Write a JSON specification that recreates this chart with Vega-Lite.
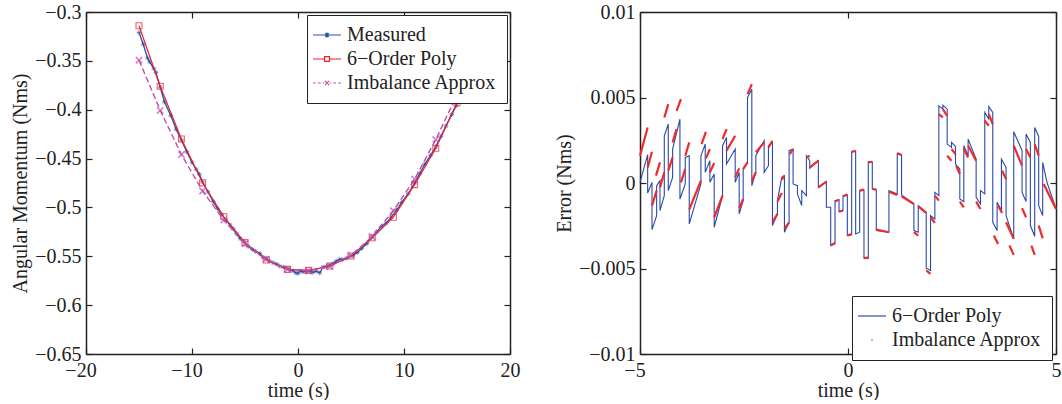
{
  "$schema": "https://vega.github.io/schema/vega-lite/v6.json",
  "padding": {"left": 10, "top": 2, "right": 0, "bottom": 0},
  "spacing": 34,
  "config": {
    "view": {"stroke": null},
    "axis": {
      "labelFont": "Liberation Serif", "labelFontSize": 20, "labelColor": "#222",
      "titleFont": "Liberation Serif", "titleFontSize": 20, "titleFontWeight": "normal", "titleColor": "#222",
      "domainColor": "#222", "domainWidth": 1.5, "tickColor": "#222", "tickWidth": 1.2,
      "grid": false, "labelFlush": false
    },
    "legend": {
      "labelFont": "Liberation Serif", "labelFontSize": 20, "labelColor": "#222",
      "strokeColor": "#222", "fillColor": "white", "padding": 10, "rowPadding": 4,
      "symbolOpacity": 1, "symbolSize": 196, "symbolStrokeWidth": 1.2, "labelOffset": 10, "labelLimit": 300
    }
  },
  "datasets": {
    "meas": [
      {"t": -15.0, "v": -0.321}, {"t": -14.6, "v": -0.333}, {"t": -14.2, "v": -0.347}, {"t": -14.0, "v": -0.351},
      {"t": -13.6, "v": -0.358}, {"t": -13.4, "v": -0.362}, {"t": -13.0, "v": -0.377}, {"t": -12.6, "v": -0.392},
      {"t": -12.0, "v": -0.406}, {"t": -11.5, "v": -0.42}, {"t": -11.0, "v": -0.431}, {"t": -10.5, "v": -0.443},
      {"t": -10.0, "v": -0.454}, {"t": -9.6, "v": -0.461}, {"t": -9.3, "v": -0.466}, {"t": -9.0, "v": -0.474},
      {"t": -8.5, "v": -0.484}, {"t": -8.0, "v": -0.494}, {"t": -7.6, "v": -0.501}, {"t": -7.2, "v": -0.507},
      {"t": -6.8, "v": -0.513}, {"t": -6.4, "v": -0.518}, {"t": -6.1, "v": -0.522}, {"t": -5.8, "v": -0.527},
      {"t": -5.45, "v": -0.532}, {"t": -5.1, "v": -0.535}, {"t": -4.7, "v": -0.54}, {"t": -4.3, "v": -0.543},
      {"t": -4.0, "v": -0.545}, {"t": -3.6, "v": -0.547}, {"t": -3.3, "v": -0.551}, {"t": -3.0, "v": -0.552},
      {"t": -2.7, "v": -0.555}, {"t": -2.36, "v": -0.5565}, {"t": -2.0, "v": -0.558}, {"t": -1.73, "v": -0.56},
      {"t": -1.4, "v": -0.561}, {"t": -1.1, "v": -0.562}, {"t": -0.8, "v": -0.5635}, {"t": -0.47, "v": -0.565},
      {"t": -0.2, "v": -0.567}, {"t": 0.0, "v": -0.5675}, {"t": 0.2, "v": -0.565}, {"t": 0.47, "v": -0.566},
      {"t": 0.8, "v": -0.5655}, {"t": 1.1, "v": -0.565}, {"t": 1.4, "v": -0.5665}, {"t": 1.73, "v": -0.5652},
      {"t": 2.05, "v": -0.567}, {"t": 2.36, "v": -0.561}, {"t": 2.7, "v": -0.5605}, {"t": 3.0, "v": -0.559},
      {"t": 3.3, "v": -0.5575}, {"t": 3.6, "v": -0.555}, {"t": 3.94, "v": -0.553}, {"t": 4.2, "v": -0.5535},
      {"t": 4.57, "v": -0.552}, {"t": 4.9, "v": -0.55}, {"t": 5.2, "v": -0.549}, {"t": 5.6, "v": -0.546},
      {"t": 6.0, "v": -0.542}, {"t": 6.5, "v": -0.537}, {"t": 6.93, "v": -0.531}, {"t": 7.4, "v": -0.525},
      {"t": 7.87, "v": -0.5195}, {"t": 8.3, "v": -0.516}, {"t": 8.8, "v": -0.51}, {"t": 9.3, "v": -0.503},
      {"t": 9.76, "v": -0.495}, {"t": 10.4, "v": -0.486}, {"t": 11.0, "v": -0.475}, {"t": 11.5, "v": -0.465},
      {"t": 11.97, "v": -0.4555}, {"t": 12.5, "v": -0.447}, {"t": 13.0, "v": -0.438}, {"t": 13.5, "v": -0.427},
      {"t": 13.95, "v": -0.4168}, {"t": 14.5, "v": -0.405}, {"t": 14.96, "v": -0.3955}
    ],
    "poly": [
      {"t": -15.0, "v": -0.314}, {"t": -13.0, "v": -0.376}, {"t": -11.0, "v": -0.43}, {"t": -9.0, "v": -0.4747},
      {"t": -7.0, "v": -0.5096}, {"t": -5.0, "v": -0.536}, {"t": -3.0, "v": -0.5538}, {"t": -1.0, "v": -0.5634},
      {"t": 1.0, "v": -0.5644}, {"t": 3.0, "v": -0.56}, {"t": 5.0, "v": -0.5497}, {"t": 7.0, "v": -0.531},
      {"t": 9.0, "v": -0.51}, {"t": 11.0, "v": -0.4767}, {"t": 13.0, "v": -0.4394}, {"t": 15.0, "v": -0.3928}
    ],
    "imb": [
      {"t": -15.0, "v": -0.3493}, {"t": -13.0, "v": -0.4007}, {"t": -11.0, "v": -0.4459}, {"t": -9.0, "v": -0.4832},
      {"t": -7.0, "v": -0.513}, {"t": -5.0, "v": -0.537}, {"t": -3.0, "v": -0.553}, {"t": -1.0, "v": -0.5634},
      {"t": 1.0, "v": -0.565}, {"t": 3.0, "v": -0.5606}, {"t": 5.0, "v": -0.549}, {"t": 7.0, "v": -0.5298},
      {"t": 9.0, "v": -0.5034}, {"t": 11.0, "v": -0.471}, {"t": 13.0, "v": -0.4305}, {"t": 15.0, "v": -0.3846}
    ],
    "legL": [{"s": "Measured"}, {"s": "6−Order Poly"}, {"s": "Imbalance Approx"}],
    "legR": [{"s": "6−Order Poly"}, {"s": "Imbalance Approx"}],
    "err": [
      {"i": 1, "t": -5.0, "e": 0.00004}, {"i": 2, "t": -4.816, "e": 0.001654}, {"i": 3, "t": -4.816, "e": -0.000584},
      {"i": 4, "t": -4.712, "e": 0.000039}, {"i": 5, "t": -4.712, "e": -0.002724}, {"i": 6, "t": -4.6, "e": -0.001907},
      {"i": 7, "t": -4.6, "e": -0.000156}, {"i": 8, "t": -4.52, "e": 0.000136}, {"i": 9, "t": -4.52, "e": -0.001615},
      {"i": 10, "t": -4.416, "e": -0.000739}, {"i": 11, "t": -4.416, "e": 0.002763}, {"i": 12, "t": -4.32, "e": 0.003444},
      {"i": 13, "t": -4.32, "e": -0.000447}, {"i": 14, "t": -4.216, "e": 0.000331}, {"i": 15, "t": -4.216, "e": 0.001984},
      {"i": 16, "t": -4.04, "e": 0.003735}, {"i": 17, "t": -4.04, "e": -0.000934}, {"i": 18, "t": -3.912, "e": -0.000058},
      {"i": 19, "t": -3.912, "e": 0.001498}, {"i": 20, "t": -3.816, "e": 0.001595}, {"i": 21, "t": -3.816, "e": -0.002393},
      {"i": 22, "t": -3.536, "e": -0.000058}, {"i": 23, "t": -3.536, "e": 0.001595}, {"i": 24, "t": -3.432, "e": 0.002276},
      {"i": 25, "t": -3.432, "e": 0.000623}, {"i": 26, "t": -3.32, "e": 0.001304}, {"i": 27, "t": -3.32, "e": 0.000039},
      {"i": 28, "t": -3.216, "e": 0.000525}, {"i": 29, "t": -3.216, "e": -0.002588}, {"i": 30, "t": -3.016, "e": -0.000739},
      {"i": 31, "t": -3.016, "e": 0.002179}, {"i": 32, "t": -2.92, "e": 0.002665}, {"i": 33, "t": -2.92, "e": 0.001109},
      {"i": 34, "t": -2.712, "e": 0.001984}, {"i": 35, "t": -2.712, "e": 0.000039}, {"i": 36, "t": -2.616, "e": 0.000623},
      {"i": 37, "t": -2.616, "e": -0.001809}, {"i": 38, "t": -2.52, "e": -0.001031}, {"i": 39, "t": -2.52, "e": 0.000817},
      {"i": 40, "t": -2.416, "e": 0.001206}, {"i": 41, "t": -2.416, "e": 0.005}, {"i": 42, "t": -2.312, "e": 0.005486},
      {"i": 43, "t": -2.312, "e": -0.000156}, {"i": 44, "t": -2.216, "e": 0.000623}, {"i": 45, "t": -2.216, "e": 0.001595},
      {"i": 46, "t": -2.016, "e": 0.002471}, {"i": 47, "t": -2.016, "e": 0.000623}, {"i": 48, "t": -1.912, "e": 0.001012},
      {"i": 49, "t": -1.912, "e": 0.002179}, {"i": 50, "t": -1.816, "e": 0.002374}, {"i": 51, "t": -1.816, "e": -0.00249},
      {"i": 52, "t": -1.696, "e": -0.001809}, {"i": 53, "t": -1.696, "e": -0.001031}, {"i": 54, "t": -1.592, "e": 0.000331},
      {"i": 55, "t": -1.528, "e": 0.000428}, {"i": 56, "t": -1.528, "e": -0.002879}, {"i": 57, "t": -1.416, "e": -0.002296},
      {"i": 58, "t": -1.416, "e": 0.001887}, {"i": 59, "t": -1.32, "e": 0.001984}, {"i": 60, "t": -1.32, "e": -0.000058},
      {"i": 61, "t": -1.216, "e": -0.000156}, {"i": 62, "t": -1.216, "e": -0.000642}, {"i": 63, "t": -1.112, "e": -0.001323},
      {"i": 64, "t": -1.112, "e": -0.000447}, {"i": 65, "t": -1.0, "e": -0.000739}, {"i": 66, "t": -1.0, "e": 0.001595},
      {"i": 67, "t": -0.92, "e": 0.001304}, {"i": 68, "t": -0.92, "e": 0.000856}, {"i": 69, "t": -0.712, "e": 0.001304},
      {"i": 70, "t": -0.712, "e": -0.000253}, {"i": 71, "t": -0.52, "e": 0.000078}, {"i": 72, "t": -0.52, "e": -0.00142},
      {"i": 73, "t": -0.416, "e": -0.00142}, {"i": 74, "t": -0.416, "e": -0.003658}, {"i": 75, "t": -0.312, "e": -0.00356},
      {"i": 76, "t": -0.312, "e": -0.001031}, {"i": 77, "t": -0.216, "e": -0.000973}, {"i": 78, "t": -0.216, "e": -0.001673},
      {"i": 79, "t": -0.12, "e": -0.001615}, {"i": 80, "t": -0.12, "e": -0.000739}, {"i": 81, "t": -0.016, "e": -0.0007},
      {"i": 82, "t": -0.016, "e": -0.003074}, {"i": 83, "t": 0.088, "e": -0.003035}, {"i": 84, "t": 0.088, "e": 0.001829},
      {"i": 85, "t": 0.184, "e": 0.001848}, {"i": 86, "t": 0.184, "e": -0.002977}, {"i": 87, "t": 0.28, "e": -0.002879},
      {"i": 88, "t": 0.28, "e": -0.000447}, {"i": 89, "t": 0.384, "e": -0.000409}, {"i": 90, "t": 0.384, "e": -0.004397},
      {"i": 91, "t": 0.488, "e": -0.004397}, {"i": 92, "t": 0.488, "e": 0.001245}, {"i": 93, "t": 0.584, "e": 0.001245},
      {"i": 94, "t": 0.584, "e": -0.00035}, {"i": 95, "t": 0.68, "e": -0.000389}, {"i": 96, "t": 0.68, "e": -0.002782},
      {"i": 97, "t": 0.984, "e": -0.002879}, {"i": 98, "t": 0.984, "e": -0.000447}, {"i": 99, "t": 1.184, "e": -0.000642},
      {"i": 100, "t": 1.184, "e": 0.001693}, {"i": 101, "t": 1.288, "e": 0.001634}, {"i": 102, "t": 1.288, "e": -0.0007},
      {"i": 103, "t": 1.584, "e": -0.001226}, {"i": 104, "t": 1.584, "e": -0.002782}, {"i": 105, "t": 1.688, "e": -0.002879},
      {"i": 106, "t": 1.688, "e": -0.001323}, {"i": 107, "t": 1.88, "e": -0.001712}, {"i": 108, "t": 1.88, "e": -0.004981},
      {"i": 109, "t": 1.984, "e": -0.005117}, {"i": 110, "t": 1.984, "e": -0.001907}, {"i": 111, "t": 2.088, "e": -0.002101},
      {"i": 112, "t": 2.088, "e": -0.000545}, {"i": 113, "t": 2.184, "e": -0.000739}, {"i": 114, "t": 2.184, "e": 0.004514},
      {"i": 115, "t": 2.28, "e": 0.004319}, {"i": 116, "t": 2.28, "e": 0.004553}, {"i": 117, "t": 2.384, "e": 0.004319},
      {"i": 118, "t": 2.384, "e": 0.002276}, {"i": 119, "t": 2.488, "e": 0.002082}, {"i": 120, "t": 2.488, "e": 0.002374},
      {"i": 121, "t": 2.584, "e": 0.00214}, {"i": 122, "t": 2.584, "e": 0.001109}, {"i": 123, "t": 2.688, "e": 0.000817},
      {"i": 124, "t": 2.688, "e": -0.000934}, {"i": 125, "t": 2.784, "e": -0.001089}, {"i": 126, "t": 2.784, "e": 0.002179},
      {"i": 127, "t": 2.888, "e": 0.001595}, {"i": 128, "t": 2.888, "e": 0.002568}, {"i": 129, "t": 3.08, "e": 0.001401},
      {"i": 130, "t": 3.08, "e": -0.000837}, {"i": 131, "t": 3.184, "e": -0.001226}, {"i": 132, "t": 3.184, "e": -0.000447},
      {"i": 133, "t": 3.288, "e": -0.000642}, {"i": 134, "t": 3.288, "e": 0.004125}, {"i": 135, "t": 3.384, "e": 0.003735},
      {"i": 136, "t": 3.384, "e": 0.004475}, {"i": 137, "t": 3.48, "e": 0.004125}, {"i": 138, "t": 3.48, "e": -0.002296},
      {"i": 139, "t": 3.584, "e": -0.002782}, {"i": 140, "t": 3.584, "e": -0.001128}, {"i": 141, "t": 3.688, "e": -0.001615},
      {"i": 142, "t": 3.688, "e": 0.001401}, {"i": 143, "t": 3.8, "e": 0.000914}, {"i": 144, "t": 3.8, "e": -0.001907},
      {"i": 145, "t": 3.984, "e": -0.003268}, {"i": 146, "t": 3.984, "e": 0.002996}, {"i": 147, "t": 4.184, "e": 0.001887},
      {"i": 148, "t": 4.184, "e": -0.000545}, {"i": 149, "t": 4.28, "e": -0.001089}, {"i": 150, "t": 4.28, "e": 0.00286},
      {"i": 151, "t": 4.384, "e": 0.002374}, {"i": 152, "t": 4.384, "e": -0.00249}, {"i": 153, "t": 4.488, "e": -0.003113},
      {"i": 154, "t": 4.488, "e": 0.003249}, {"i": 155, "t": 4.584, "e": 0.002724}, {"i": 156, "t": 4.584, "e": -0.001323},
      {"i": 157, "t": 4.68, "e": -0.001907}, {"i": 158, "t": 4.68, "e": 0.001206}, {"i": 159, "t": 4.784, "e": 0.000039},
      {"i": 160, "t": 5.0, "e": -0.001518}
    ],
    "seg": [
      {"k": 1, "t": -5.0, "e": 0.001595}, {"k": 1, "t": -4.816, "e": 0.003249},
      {"k": 2, "t": -4.816, "e": 0.000914}, {"k": 2, "t": -4.712, "e": 0.001829},
      {"k": 3, "t": -4.712, "e": -0.001323}, {"k": 3, "t": -4.6, "e": -0.000447},
      {"k": 4, "t": -4.616, "e": 0.000428}, {"k": 4, "t": -4.52, "e": 0.001206},
      {"k": 5, "t": -4.52, "e": -0.000253}, {"k": 5, "t": -4.416, "e": 0.000623},
      {"k": 6, "t": -4.416, "e": 0.003833}, {"k": 6, "t": -4.32, "e": 0.004611},
      {"k": 7, "t": -4.32, "e": 0.00072}, {"k": 7, "t": -4.216, "e": 0.001498},
      {"k": 8, "t": -4.216, "e": 0.002374}, {"k": 8, "t": -4.12, "e": 0.003152},
      {"k": 9, "t": -4.12, "e": 0.004222}, {"k": 9, "t": -4.016, "e": 0.004903},
      {"k": 10, "t": -4.016, "e": 0.000039}, {"k": 10, "t": -3.912, "e": 0.000817},
      {"k": 11, "t": -3.912, "e": 0.001595}, {"k": 11, "t": -3.816, "e": 0.002374},
      {"k": 12, "t": -3.816, "e": -0.001556}, {"k": 12, "t": -3.536, "e": 0.000136},
      {"k": 13, "t": -3.52, "e": 0.002276}, {"k": 13, "t": -3.416, "e": 0.002996},
      {"k": 14, "t": -3.416, "e": 0.00144}, {"k": 14, "t": -3.32, "e": 0.001984},
      {"k": 15, "t": -3.32, "e": 0.000623}, {"k": 15, "t": -3.216, "e": 0.001167},
      {"k": 16, "t": -3.216, "e": -0.002004}, {"k": 16, "t": -3.016, "e": -0.000739},
      {"k": 17, "t": -3.016, "e": 0.002568}, {"k": 17, "t": -2.92, "e": 0.003152},
      {"k": 18, "t": -2.92, "e": 0.001887}, {"k": 18, "t": -2.712, "e": 0.002763},
      {"k": 19, "t": -2.712, "e": 0.000331}, {"k": 19, "t": -2.616, "e": 0.000856},
      {"k": 20, "t": -2.616, "e": -0.001479}, {"k": 20, "t": -2.52, "e": -0.000934},
      {"k": 21, "t": -2.52, "e": 0.000817}, {"k": 21, "t": -2.416, "e": 0.001206},
      {"k": 22, "t": -2.416, "e": 0.005195}, {"k": 22, "t": -2.312, "e": 0.005778},
      {"k": 23, "t": -2.312, "e": 0.000136}, {"k": 23, "t": -2.216, "e": 0.000623},
      {"k": 24, "t": -2.216, "e": 0.00179}, {"k": 24, "t": -2.016, "e": 0.002374},
      {"k": 25, "t": -1.912, "e": 0.002082}, {"k": 25, "t": -1.816, "e": 0.002471},
      {"k": 26, "t": -1.816, "e": -0.002296}, {"k": 26, "t": -1.696, "e": -0.001809},
      {"k": 27, "t": -1.696, "e": -0.001089}, {"k": 27, "t": -1.592, "e": -0.000584},
      {"k": 28, "t": -1.592, "e": 0.000195}, {"k": 28, "t": -1.528, "e": 0.000428},
      {"k": 29, "t": -1.528, "e": -0.002685}, {"k": 29, "t": -1.416, "e": -0.002296},
      {"k": 30, "t": -1.4, "e": 0.001693}, {"k": 30, "t": -1.32, "e": 0.001984},
      {"k": 31, "t": -1.0, "e": 0.001498}, {"k": 31, "t": -0.92, "e": 0.001595},
      {"k": 32, "t": -0.92, "e": 0.000914}, {"k": 32, "t": -0.712, "e": 0.001304},
      {"k": 33, "t": -0.712, "e": -0.000253}, {"k": 33, "t": -0.52, "e": 0.000078},
      {"k": 34, "t": -0.416, "e": -0.003658}, {"k": 34, "t": -0.312, "e": -0.003502},
      {"k": 35, "t": -0.312, "e": -0.001089}, {"k": 35, "t": -0.216, "e": -0.000973},
      {"k": 36, "t": -0.216, "e": -0.001673}, {"k": 36, "t": -0.12, "e": -0.001615},
      {"k": 37, "t": -0.12, "e": -0.000778}, {"k": 37, "t": -0.016, "e": -0.000681},
      {"k": 38, "t": -0.016, "e": -0.003074}, {"k": 38, "t": 0.088, "e": -0.002977},
      {"k": 39, "t": 0.088, "e": 0.001829}, {"k": 39, "t": 0.184, "e": 0.001887},
      {"k": 40, "t": 0.28, "e": -0.000447}, {"k": 40, "t": 0.384, "e": -0.000389},
      {"k": 41, "t": 0.384, "e": -0.004397}, {"k": 41, "t": 0.488, "e": -0.004358},
      {"k": 42, "t": 0.488, "e": 0.001206}, {"k": 42, "t": 0.584, "e": 0.001245},
      {"k": 43, "t": 0.584, "e": -0.00035}, {"k": 43, "t": 0.68, "e": -0.000389},
      {"k": 44, "t": 0.68, "e": -0.002724}, {"k": 44, "t": 0.984, "e": -0.002879},
      {"k": 45, "t": 0.984, "e": -0.000506}, {"k": 45, "t": 1.184, "e": -0.0007},
      {"k": 46, "t": 1.184, "e": 0.001751}, {"k": 46, "t": 1.288, "e": 0.001634},
      {"k": 47, "t": 1.288, "e": -0.000778}, {"k": 47, "t": 1.584, "e": -0.001226},
      {"k": 48, "t": 1.584, "e": -0.002879}, {"k": 48, "t": 1.688, "e": -0.003074},
      {"k": 49, "t": 1.688, "e": -0.001362}, {"k": 49, "t": 1.88, "e": -0.001751},
      {"k": 50, "t": 1.88, "e": -0.005117}, {"k": 50, "t": 1.984, "e": -0.005311},
      {"k": 51, "t": 1.984, "e": -0.002004}, {"k": 51, "t": 2.088, "e": -0.002335},
      {"k": 52, "t": 2.088, "e": -0.000739}, {"k": 52, "t": 2.184, "e": -0.001031},
      {"k": 53, "t": 2.184, "e": 0.004027}, {"k": 53, "t": 2.28, "e": 0.003833},
      {"k": 54, "t": 2.28, "e": 0.004319}, {"k": 54, "t": 2.384, "e": 0.00393},
      {"k": 55, "t": 2.384, "e": 0.001595}, {"k": 55, "t": 2.488, "e": 0.001304},
      {"k": 56, "t": 2.488, "e": 0.001984}, {"k": 56, "t": 2.584, "e": 0.001693},
      {"k": 57, "t": 2.6, "e": 0.001012}, {"k": 57, "t": 2.688, "e": 0.000525},
      {"k": 58, "t": 2.688, "e": -0.001089}, {"k": 58, "t": 2.784, "e": -0.00142},
      {"k": 59, "t": 2.784, "e": 0.001984}, {"k": 59, "t": 2.888, "e": 0.001498},
      {"k": 60, "t": 2.888, "e": 0.002179}, {"k": 60, "t": 3.08, "e": 0.001304},
      {"k": 61, "t": 3.08, "e": -0.001089}, {"k": 61, "t": 3.184, "e": -0.001518},
      {"k": 62, "t": 3.288, "e": 0.003638}, {"k": 62, "t": 3.384, "e": 0.003346},
      {"k": 63, "t": 3.384, "e": 0.004027}, {"k": 63, "t": 3.48, "e": 0.003444},
      {"k": 64, "t": 3.504, "e": -0.003074}, {"k": 64, "t": 3.608, "e": -0.00356},
      {"k": 65, "t": 3.608, "e": -0.001323}, {"k": 65, "t": 3.704, "e": -0.001751},
      {"k": 66, "t": 3.704, "e": 0.00072}, {"k": 66, "t": 3.8, "e": 0.000233},
      {"k": 67, "t": 3.8, "e": -0.002296}, {"k": 67, "t": 3.984, "e": -0.003268},
      {"k": 68, "t": 3.88, "e": -0.003658}, {"k": 68, "t": 3.984, "e": -0.004202},
      {"k": 69, "t": 3.984, "e": 0.002179}, {"k": 69, "t": 4.184, "e": 0.001012},
      {"k": 70, "t": 4.184, "e": -0.001479}, {"k": 70, "t": 4.28, "e": -0.002004},
      {"k": 71, "t": 4.28, "e": 0.001984}, {"k": 71, "t": 4.384, "e": 0.001498},
      {"k": 72, "t": 4.408, "e": -0.003658}, {"k": 72, "t": 4.488, "e": -0.004202},
      {"k": 73, "t": 4.488, "e": 0.002276}, {"k": 73, "t": 4.584, "e": 0.001595},
      {"k": 74, "t": 4.584, "e": -0.00249}, {"k": 74, "t": 4.68, "e": -0.00323},
      {"k": 75, "t": 4.704, "e": -0.000058}, {"k": 75, "t": 5.0, "e": -0.001518}
    ]
  },
  "hconcat": [
    {
      "width": 424, "height": 342,
      "resolve": {"axis": {"x": "independent", "y": "independent"}},
      "layer": [
        {
          "data": {"name": "meas"},
          "mark": {"type": "line", "color": "#2e4fa6", "strokeWidth": 1.3},
          "encoding": {
            "x": {"field": "t", "type": "quantitative", "scale": {"domain": [-20, 20]},
              "axis": {"orient": "bottom", "values": [-20, -10, 0, 10, 20], "format": "~r", "title": "time (s)", "tickSize": -6, "labelPadding": 12, "titlePadding": 0,
                "labelOffset": {"condition": {"test": "datum.value < 0", "value": -5.5}, "value": 0}}},
            "y": {"field": "v", "type": "quantitative", "scale": {"domain": [-0.65, -0.3]},
              "axis": {"orient": "left", "values": [-0.65, -0.6, -0.55, -0.5, -0.45, -0.4, -0.35, -0.3], "format": "~r", "title": "Angular Momentum (Nms)", "tickSize": -6, "labelPadding": 11, "titlePadding": 4}}
          }
        },
        {
          "data": {"name": "meas"},
          "mark": {"type": "point", "shape": "M-1,0H1M0,-1V1M-0.7,-0.7L0.7,0.7M-0.7,0.7L0.7,-0.7", "size": 22, "color": "#2e4fa6", "filled": false, "strokeWidth": 0.9},
          "encoding": {
            "x": {"field": "t", "type": "quantitative",
              "axis": {"orient": "top", "values": [-20, -10, 0, 10, 20], "labels": false, "title": null, "tickSize": -6}},
            "y": {"field": "v", "type": "quantitative",
              "axis": {"orient": "right", "values": [-0.65, -0.6, -0.55, -0.5, -0.45, -0.4, -0.35, -0.3], "labels": false, "title": null, "tickSize": -6}}
          }
        },
        {
          "data": {"name": "poly"},
          "mark": {"type": "line", "color": "#e8202a", "strokeWidth": 1.2},
          "encoding": {
            "x": {"field": "t", "type": "quantitative", "axis": null},
            "y": {"field": "v", "type": "quantitative", "axis": null}
          }
        },
        {
          "data": {"name": "poly"},
          "mark": {"type": "point", "shape": "square", "size": 36, "color": "#e8202a", "filled": false, "strokeWidth": 1.1},
          "encoding": {
            "x": {"field": "t", "type": "quantitative", "axis": null},
            "y": {"field": "v", "type": "quantitative", "axis": null}
          }
        },
        {
          "data": {"name": "imb"},
          "mark": {"type": "line", "color": "#c04cb0", "strokeWidth": 1.4, "strokeDash": [6, 3]},
          "encoding": {
            "x": {"field": "t", "type": "quantitative", "axis": null},
            "y": {"field": "v", "type": "quantitative", "axis": null}
          }
        },
        {
          "data": {"name": "imb"},
          "mark": {"type": "point", "shape": "M-1,-1L1,1M-1,1L1,-1", "size": 40, "color": "#c04cb0", "filled": false, "strokeWidth": 1.6},
          "encoding": {
            "x": {"field": "t", "type": "quantitative", "axis": null},
            "y": {"field": "v", "type": "quantitative", "axis": null}
          }
        },
        {
          "data": {"name": "legL"},
          "mark": {"type": "point", "filled": false, "opacity": 0, "strokeWidth": 1.2},
          "encoding": {
            "color": {"field": "s", "type": "nominal",
              "scale": {"domain": ["Measured", "6−Order Poly", "Imbalance Approx"], "range": ["#2e4fa6", "#e8202a", "#c04cb0"]},
              "legend": {"orient": "none", "legendX": 221, "legendY": 3, "title": null}},
            "shape": {"field": "s", "type": "nominal",
              "scale": {"domain": ["Measured", "6−Order Poly", "Imbalance Approx"],
                "range": [
                  "M-2,0H2M0,-0.35V0.35M-0.25,-0.25L0.25,0.25M-0.25,0.25L0.25,-0.25",
                  "M-2,0H-0.35M0.35,0H2M-0.35,-0.35H0.35V0.35H-0.35Z",
                  "M-2,0H-1.6M-1.3,0H-0.9M-0.6,0H-0.4M0.4,0H0.6M0.9,0H1.3M1.6,0H2M-0.3,-0.3L0.3,0.3M-0.3,0.3L0.3,-0.3"
                ]},
              "legend": {"orient": "none", "legendX": 221, "legendY": 3, "title": null}}
          }
        }
      ]
    },
    {
      "width": 416, "height": 342,
      "resolve": {"axis": {"x": "independent", "y": "independent"}},
      "layer": [
        {
          "data": {"name": "err"},
          "mark": {"type": "line", "color": "#2b4aa8", "strokeWidth": 1.1},
          "encoding": {
            "x": {"field": "t", "type": "quantitative", "scale": {"domain": [-5, 5]},
              "axis": {"orient": "bottom", "values": [-5, 0, 5], "format": "~r", "title": "time (s)", "tickSize": -6, "labelPadding": 12, "titlePadding": 0,
                "labelOffset": {"condition": {"test": "datum.value < 0", "value": -5.5}, "value": 0}}},
            "y": {"field": "e", "type": "quantitative", "scale": {"domain": [-0.01, 0.01]},
              "axis": {"orient": "left", "values": [-0.01, -0.005, 0, 0.005, 0.01], "format": "~r", "title": "Error (Nms)", "tickSize": -6, "labelPadding": 11, "titlePadding": 4}},
            "order": {"field": "i", "type": "quantitative"}
          }
        },
        {
          "data": {"name": "seg"},
          "mark": {"type": "line", "color": "#ee2a2a", "strokeWidth": 2.2},
          "encoding": {
            "x": {"field": "t", "type": "quantitative",
              "axis": {"orient": "top", "values": [-5, 0, 5], "labels": false, "title": null, "tickSize": -6}},
            "y": {"field": "e", "type": "quantitative",
              "axis": {"orient": "right", "values": [-0.01, -0.005, 0, 0.005, 0.01], "labels": false, "title": null, "tickSize": -6}},
            "detail": {"field": "k", "type": "nominal"}
          }
        },
        {
          "data": {"name": "legR"},
          "mark": {"type": "point", "filled": false, "opacity": 0, "strokeWidth": 1.2},
          "encoding": {
            "color": {"field": "s", "type": "nominal",
              "scale": {"domain": ["6−Order Poly", "Imbalance Approx"], "range": ["#2b4aa8", "#ee2a2a"]},
              "legend": {"orient": "none", "legendX": 212, "legendY": 284, "title": null}},
            "shape": {"field": "s", "type": "nominal",
              "scale": {"domain": ["6−Order Poly", "Imbalance Approx"],
                "range": ["M-2,0H2", "M-0.12,0H0.12"]},
              "legend": {"orient": "none", "legendX": 212, "legendY": 284, "title": null}}
          }
        }
      ]
    }
  ],
  "resolve": {"scale": {"color": "independent", "shape": "independent"}, "legend": {"color": "independent", "shape": "independent"}}
}
